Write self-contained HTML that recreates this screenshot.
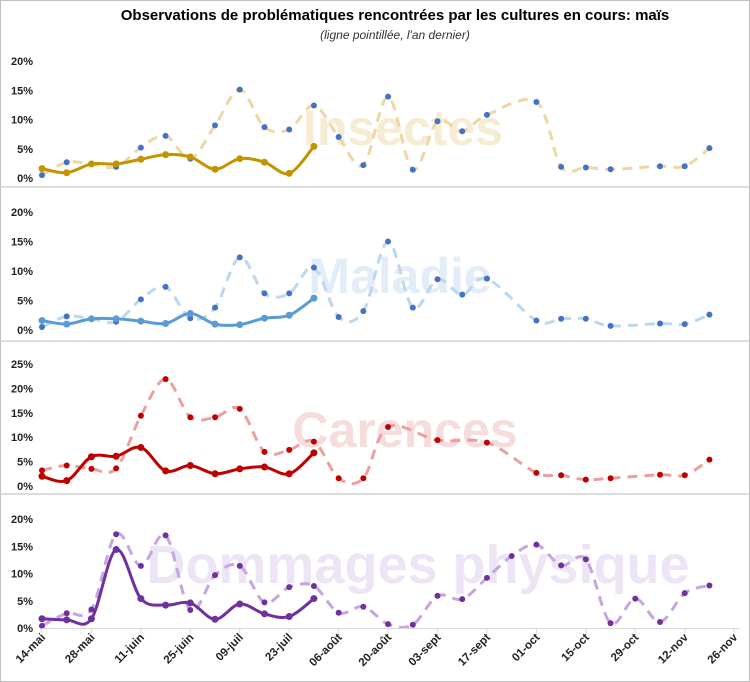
<!DOCTYPE html>
<html><head><meta charset="utf-8"><style>
body{margin:0;background:#fff;}
svg{display:block;font-family:"Liberation Sans",sans-serif;}
</style></head><body>
<svg id="chart" width="750" height="682" viewBox="0 0 750 682">
<rect x="0.5" y="0.5" width="749" height="681" fill="#fff" stroke="#bfbfbf"/>
<text x="395" y="20" text-anchor="middle" font-size="15" font-weight="bold" fill="#000">Observations de problématiques rencontrées par les cultures en cours: maïs</text>
<text x="395" y="39" text-anchor="middle" font-size="12" font-style="italic" fill="#333">(ligne pointillée, l'an dernier)</text>
<g id="plots"></g>
</svg>
<script>
const dates = ["14-mai","28-mai","11-juin","25-juin","09-juil","23-juil","06-août","20-août","03-sept","17-sept","01-oct","15-oct","29-oct","12-nov","26-nov"];
const insectesCurrent = [1.6,0.9,2.4,2.4,3.2,4.0,3.6,1.5,3.3,2.7,0.8,5.4];
const insectesLast = [0.5,2.7,2.4,1.9,5.2,7.2,3.3,9.0,15.1,8.7,8.3,12.4,7.0,2.2,13.9,1.4,9.7,8.0,10.8,null,13.0,1.9,1.8,1.5,null,2.0,2.0,5.1];
const maladieCurrent = [1.6,1.0,1.9,1.9,1.5,1.1,2.8,1.0,0.9,2.0,2.5,5.4];
const maladieLast = [0.5,2.3,1.9,1.4,5.2,7.3,2.0,3.8,12.3,6.2,6.2,10.6,2.2,3.2,15.0,3.8,8.6,6.0,8.7,null,1.6,1.9,1.9,0.7,null,1.1,1.0,2.6];
const carencesCurrent = [2.0,1.1,6.0,6.1,7.9,3.1,4.2,2.5,3.5,3.9,2.5,6.8];
const carencesLast = [3.2,4.2,3.5,3.6,14.4,21.9,14.1,14.1,15.8,7.0,7.4,9.1,1.6,1.6,12.1,null,9.4,null,8.9,null,2.7,2.2,1.3,1.6,null,2.3,2.2,5.4];
const dommagesCurrent = [1.7,1.5,1.7,14.4,5.4,4.2,4.6,1.6,4.4,2.6,2.1,5.4];
const dommagesLast = [0.4,2.7,3.4,17.2,11.4,17.0,3.3,9.7,11.4,4.7,7.5,7.7,2.8,3.9,0.7,0.6,5.9,5.3,9.2,13.2,15.3,11.5,12.6,0.9,5.4,1.1,6.4,7.8];

const NS="http://www.w3.org/2000/svg";
const g=document.getElementById('plots');
const x0=42, wk=24.72;
const xScale=i=>x0+i*wk;
function mk(tag,attrs){const e=document.createElementNS(NS,tag);for(const k in attrs)e.setAttribute(k,attrs[k]);g.appendChild(e);return e;}
function smooth(pts){
  if(pts.length<2)return "";
  let d=`M${pts[0][0]},${pts[0][1]}`;
  const t=0.5/3;
  for(let i=0;i<pts.length-1;i++){
    const p0=pts[Math.max(0,i-1)],p1=pts[i],p2=pts[i+1],p3=pts[Math.min(pts.length-1,i+2)];
    const c1x=p1[0]+(p2[0]-p0[0])*t,c1y=p1[1]+(p2[1]-p0[1])*t;
    const c2x=p2[0]-(p3[0]-p1[0])*t,c2y=p2[1]-(p3[1]-p1[1])*t;
    d+=` C${c1x},${c1y} ${c2x},${c2y} ${p2[0]},${p2[1]}`;
  }
  return d;
}
const panels=[
 {name:"insectes",label:"Insectes",zero:178,top:61,max:20,cur:insectesCurrent,last:insectesLast,solid:"#c49400",dash:"#edd7a3",mkLast:"#4472c4",mkCur:"#c49400",wm:"#f6ecd3",wx:403,wy:145,ws:50},
 {name:"maladie",label:"Maladie",zero:330,top:212,max:20,cur:maladieCurrent,last:maladieLast,solid:"#5b9bd5",dash:"#bdd7ee",mkLast:"#4472c4",mkCur:"#5b9bd5",wm:"#e3edf8",wx:400,wy:293,ws:50},
 {name:"carences",label:"Carences",zero:486,top:364,max:25,cur:carencesCurrent,last:carencesLast,solid:"#c00000",dash:"#ec9f9f",mkLast:"#c00000",mkCur:"#c00000",wm:"#f7dcdc",wx:405,wy:447,ws:50},
 {name:"dommages",label:"Dommages physique",zero:628,top:519,max:20,cur:dommagesCurrent,last:dommagesLast,solid:"#7030a0",dash:"#c5a6e0",mkLast:"#7030a0",mkCur:"#7030a0",wm:"#ede5f5",wx:418,wy:583,ws:54}
];
[187,341,494].forEach((y,i)=>{
 const l=mk('line',{x1:0,x2:750,y1:y,y2:y,stroke:'#d0d0d0','stroke-width':1.5});
 
 
});
panels.forEach(p=>{
 const ys=v=>p.zero-(v/p.max)*(p.zero-p.top);
 const wm=mk('text',{x:p.wx,y:p.wy,'text-anchor':'middle','font-size':p.ws,'font-weight':'bold',fill:p.wm});
 wm.textContent=p.label;
 
 
 for(let v=0;v<=p.max;v+=5){
  const t=mk('text',{x:33,y:ys(v)+4,'text-anchor':'end','font-size':11,'font-weight':'bold',fill:'#222'});
  t.textContent=v+'%';
  
  
 }
 const lastPts=[];p.last.forEach((v,i)=>{if(v!==null)lastPts.push([xScale(i),ys(v)]);});
 const curPts=p.cur.map((v,i)=>[xScale(i),ys(v)]);
 const dl=mk('path',{d:smooth(lastPts),fill:'none',stroke:p.dash,'stroke-width':3,'stroke-dasharray':'10 7'});
 
 
 lastPts.forEach(q=>{
  const c=mk('circle',{cx:q[0],cy:q[1],r:3,fill:p.mkLast});
  
  
 });
 const sl=mk('path',{d:smooth(curPts),fill:'none',stroke:p.solid,'stroke-width':3});
 
 
 curPts.forEach(q=>{
  const c=mk('circle',{cx:q[0],cy:q[1],r:3.5,fill:p.mkCur});
  
  
 });
});
const ax=mk('line',{x1:42,x2:740,y1:628.5,y2:628.5,stroke:'#d9d9d9','stroke-width':1});


dates.forEach((d,i)=>{
 const x=xScale(i*2);
 const tk=mk('line',{x1:x,x2:x,y1:628,y2:633,stroke:'#d9d9d9'});
 
 
 const t=mk('text',{x:x+4,y:638,'text-anchor':'end','font-size':11.5,'font-weight':'bold',fill:'#222',transform:`rotate(-45 ${x+4} 638)`});
 t.textContent=d;
 
 
});
</script>
</body></html>
